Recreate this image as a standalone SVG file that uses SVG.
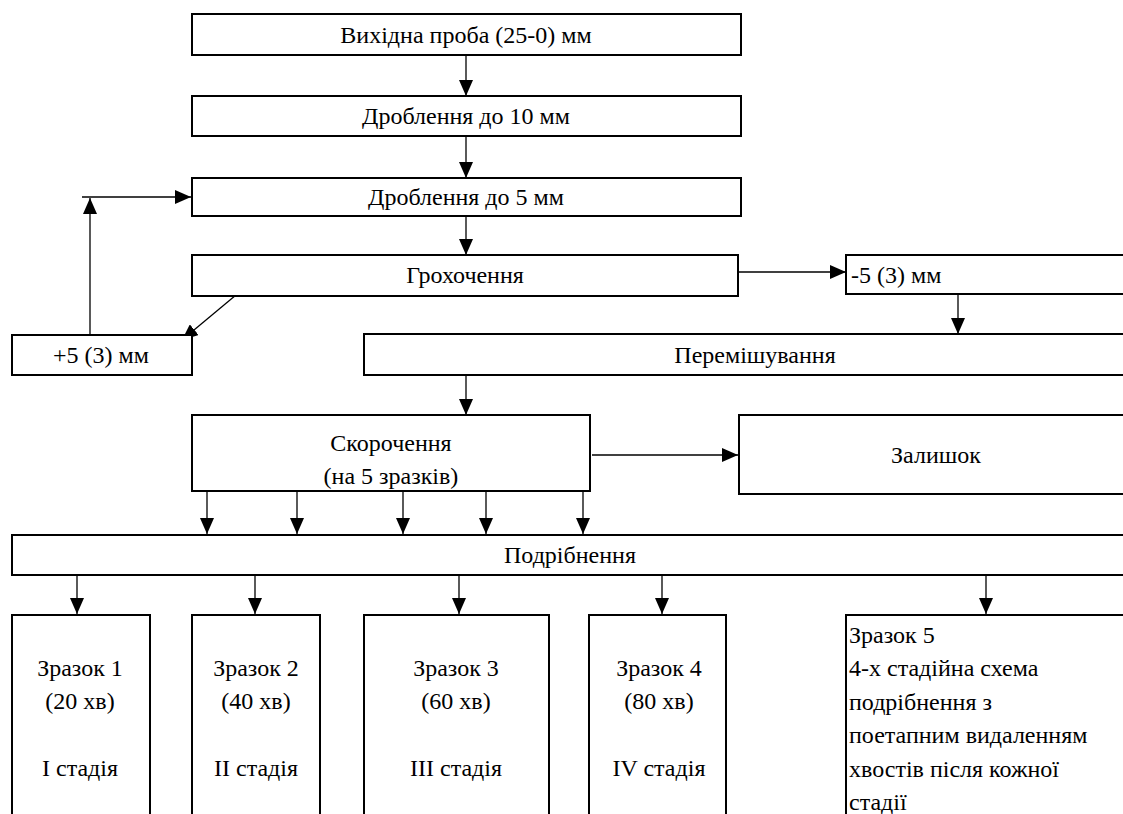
<svg xmlns="http://www.w3.org/2000/svg" width="1123" height="814" viewBox="0 0 1123 814">
  <defs>
    <marker id="ah" viewBox="0 0 16 14" refX="16" refY="7" markerWidth="16" markerHeight="14" markerUnits="userSpaceOnUse" orient="auto">
      <path d="M0,0 L16,7 L0,14 Z" fill="#000"/>
    </marker>
  </defs>
  <rect width="1123" height="814" fill="#fff"/>

  <!-- flow arrows -->
  <g id="connectors" fill="none" stroke="#000" stroke-width="1.3" marker-end="url(#ah)">
    <line x1="466" y1="55" x2="466" y2="96"/>
    <line x1="466" y1="136" x2="466" y2="178"/>
    <line x1="466" y1="216" x2="466" y2="255"/>
    <line x1="90" y1="335" x2="90" y2="198"/>
    <line x1="82" y1="197" x2="191" y2="197"/>
    <line x1="236" y1="295" x2="182" y2="340"/>
    <line x1="738" y1="272" x2="846" y2="272"/>
    <line x1="958" y1="294" x2="958" y2="334"/>
    <line x1="466" y1="375" x2="466" y2="415"/>
    <line x1="592" y1="455" x2="738" y2="455"/>
    <line x1="207" y1="491" x2="207" y2="534"/>
    <line x1="297" y1="491" x2="297" y2="534"/>
    <line x1="403" y1="491" x2="403" y2="534"/>
    <line x1="486" y1="491" x2="486" y2="534"/>
    <line x1="583" y1="491" x2="583" y2="534"/>
    <line x1="77" y1="575" x2="77" y2="614"/>
    <line x1="255" y1="575" x2="255" y2="614"/>
    <line x1="459" y1="575" x2="459" y2="614"/>
    <line x1="662" y1="575" x2="662" y2="614"/>
    <line x1="986" y1="575" x2="986" y2="614"/>
  </g>

  <g id="n-source">
    <rect x="192" y="14" width="549" height="41" fill="#fff" stroke="#000" stroke-width="2"/>
    <text x="466" y="43" text-anchor="middle" font-family="Liberation Serif" font-size="24"><tspan font-family="Liberation Serif">Вихідна проба (25-0) мм</tspan></text>
  </g>
  <g id="n-crush10">
    <rect x="192" y="96" width="549" height="40" fill="#fff" stroke="#000" stroke-width="2"/>
    <text x="466" y="124" text-anchor="middle" font-family="Liberation Serif" font-size="24"><tspan font-family="Liberation Serif">Дроблення до 10 мм</tspan></text>
  </g>
  <g id="n-crush5">
    <rect x="192" y="178" width="549" height="38" fill="#fff" stroke="#000" stroke-width="2"/>
    <text x="466" y="205" text-anchor="middle" font-family="Liberation Serif" font-size="24"><tspan font-family="Liberation Serif">Дроблення до 5 мм</tspan></text>
  </g>
  <g id="n-screen">
    <rect x="192" y="255" width="546" height="41" fill="#fff" stroke="#000" stroke-width="2"/>
    <text x="465" y="283" text-anchor="middle" font-family="Liberation Serif" font-size="24"><tspan font-family="Liberation Serif">Грохочення</tspan></text>
  </g>
  <g id="n-plus">
    <rect x="12" y="335" width="180" height="40" fill="#fff" stroke="#000" stroke-width="2"/>
    <text x="101" y="363" text-anchor="middle" font-family="Liberation Serif" font-size="24"><tspan font-family="Liberation Serif">+5 (3) мм</tspan></text>
  </g>
  <g id="n-minus">
    <rect x="846" y="255" width="290" height="39" fill="#fff" stroke="#000" stroke-width="2"/>
    <text x="851" y="283" font-family="Liberation Serif" font-size="24"><tspan font-family="Liberation Serif">-5 (3) мм</tspan></text>
  </g>
  <g id="n-mix">
    <rect x="364" y="334" width="772" height="41" fill="#fff" stroke="#000" stroke-width="2"/>
    <text x="755" y="363" text-anchor="middle" font-family="Liberation Serif" font-size="24"><tspan font-family="Liberation Serif">Перемішування</tspan></text>
  </g>
  <g id="n-reduce">
    <rect x="192" y="415" width="398" height="76" fill="#fff" stroke="#000" stroke-width="2"/>
    <text x="391" y="451" text-anchor="middle" font-family="Liberation Serif" font-size="24"><tspan font-family="Liberation Serif">Скорочення</tspan></text>
    <text x="391" y="484" text-anchor="middle" font-family="Liberation Serif" font-size="24"><tspan font-family="Liberation Serif">(на 5 зразків)</tspan></text>
  </g>
  <g id="n-rest">
    <rect x="739" y="415" width="397" height="79" fill="#fff" stroke="#000" stroke-width="2"/>
    <text x="936" y="463" text-anchor="middle" font-family="Liberation Serif" font-size="24"><tspan font-family="Liberation Serif">Залишок</tspan></text>
  </g>
  <g id="n-grind">
    <rect x="12" y="535" width="1124" height="40" fill="#fff" stroke="#000" stroke-width="2"/>
    <text x="570" y="563" text-anchor="middle" font-family="Liberation Serif" font-size="24"><tspan font-family="Liberation Serif">Подрібнення</tspan></text>
  </g>
  <g id="n-s1">
    <rect x="12" y="615" width="138" height="220" fill="#fff" stroke="#000" stroke-width="2"/>
    <text x="80" y="676" text-anchor="middle" font-family="Liberation Serif" font-size="24"><tspan font-family="Liberation Serif">Зразок 1</tspan></text>
    <text x="80" y="709" text-anchor="middle" font-family="Liberation Serif" font-size="24"><tspan font-family="Liberation Serif">(20 хв)</tspan></text>
    <text x="80" y="776" text-anchor="middle" font-family="Liberation Serif" font-size="24"><tspan font-family="Liberation Serif">І стадія</tspan></text>
  </g>
  <g id="n-s2">
    <rect x="192" y="615" width="128" height="220" fill="#fff" stroke="#000" stroke-width="2"/>
    <text x="256" y="676" text-anchor="middle" font-family="Liberation Serif" font-size="24"><tspan font-family="Liberation Serif">Зразок 2</tspan></text>
    <text x="256" y="709" text-anchor="middle" font-family="Liberation Serif" font-size="24"><tspan font-family="Liberation Serif">(40 хв)</tspan></text>
    <text x="256" y="776" text-anchor="middle" font-family="Liberation Serif" font-size="24"><tspan font-family="Liberation Serif">ІІ стадія</tspan></text>
  </g>
  <g id="n-s3">
    <rect x="364" y="615" width="185" height="220" fill="#fff" stroke="#000" stroke-width="2"/>
    <text x="456" y="676" text-anchor="middle" font-family="Liberation Serif" font-size="24"><tspan font-family="Liberation Serif">Зразок 3</tspan></text>
    <text x="456" y="709" text-anchor="middle" font-family="Liberation Serif" font-size="24"><tspan font-family="Liberation Serif">(60 хв)</tspan></text>
    <text x="456" y="776" text-anchor="middle" font-family="Liberation Serif" font-size="24"><tspan font-family="Liberation Serif">ІІІ стадія</tspan></text>
  </g>
  <g id="n-s4">
    <rect x="589" y="615" width="137" height="220" fill="#fff" stroke="#000" stroke-width="2"/>
    <text x="659" y="676" text-anchor="middle" font-family="Liberation Serif" font-size="24"><tspan font-family="Liberation Serif">Зразок 4</tspan></text>
    <text x="659" y="709" text-anchor="middle" font-family="Liberation Serif" font-size="24"><tspan font-family="Liberation Serif">(80 хв)</tspan></text>
    <text x="659" y="776" text-anchor="middle" font-family="Liberation Serif" font-size="24"><tspan font-family="Liberation Serif">IV стадія</tspan></text>
  </g>
  <g id="n-s5">
    <rect x="846" y="615" width="290" height="220" fill="#fff" stroke="#000" stroke-width="2"/>
    <text x="849" y="643" font-family="Liberation Serif" font-size="24"><tspan font-family="Liberation Serif">Зразок 5</tspan></text>
    <text x="849" y="676" font-family="Liberation Serif" font-size="24"><tspan font-family="Liberation Serif">4-х стадійна схема</tspan></text>
    <text x="849" y="710" font-family="Liberation Serif" font-size="24"><tspan font-family="Liberation Serif">подрібнення з</tspan></text>
    <text x="849" y="743" font-family="Liberation Serif" font-size="24"><tspan font-family="Liberation Serif">поетапним видаленням</tspan></text>
    <text x="849" y="777" font-family="Liberation Serif" font-size="24"><tspan font-family="Liberation Serif">хвостів після кожної</tspan></text>
    <text x="849" y="810" font-family="Liberation Serif" font-size="24"><tspan font-family="Liberation Serif">стадії</tspan></text>
  </g>
</svg>
